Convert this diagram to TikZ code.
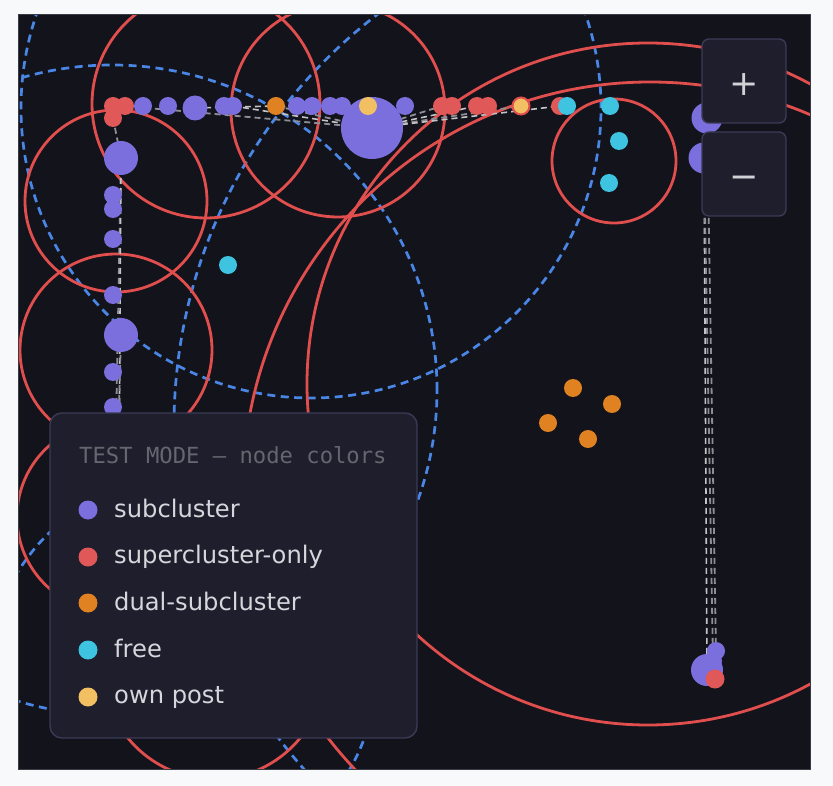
\documentclass[tikz,border=0pt]{standalone}
\usepackage{fontspec}
\newfontfamily\legfont{DejaVu Sans}
\newfontfamily\ttlfont{DejaVu Sans Mono}
\definecolor{pagebg}{HTML}{F8F9FB}
\definecolor{canvasbg}{HTML}{13131B}
\definecolor{canvasline}{HTML}{3A3A44}
\definecolor{ringred}{HTML}{E04E4E}
\definecolor{ringblue}{HTML}{4A86E6}
\definecolor{nodepurple}{HTML}{7B6FDD}
\definecolor{nodered}{HTML}{E05858}
\definecolor{nodeorange}{HTML}{E08222}
\definecolor{nodecyan}{HTML}{3EC4E0}
\definecolor{nodeyellow}{HTML}{F2C062}
\definecolor{edgegray}{HTML}{8E8E96}
\definecolor{edgelight}{HTML}{C4C4C8}
\definecolor{panelbg}{HTML}{1E1E2D}
\definecolor{panelline}{HTML}{3A3A56}
\definecolor{titlegray}{HTML}{66666F}
\definecolor{itemtext}{HTML}{D6D6DC}
\definecolor{glyphgray}{HTML}{D2D2D6}
\pgfdeclarelayer{ringlayer}
\pgfdeclarelayer{edgelayer}
\pgfdeclarelayer{frontlayer}
\pgfsetlayers{ringlayer,edgelayer,main,frontlayer}
\begin{document}
\begin{tikzpicture}[x=1pt,y=-1pt,
  redring/.style={draw=ringred, line width=2.8pt},
  bluering/.style={draw=ringblue, line width=2.7pt, dash pattern=on 8pt off 5.5pt},
  dot/.style={circle, inner sep=0pt, minimum size=18pt, fill=#1},
  midsize/.style={minimum size=25pt},
  bigsize/.style={minimum size=34pt},
  hugesize/.style={minimum size=62pt},
  edge/.style={draw=edgegray, line width=1.8pt, dash pattern=on 6pt off 4pt},
  edgel/.style={draw=edgelight, line width=1.6pt, dash pattern=on 6pt off 4pt},
  panel/.style={draw=panelline, fill=panelbg, line width=1.4pt, rounded corners=12pt},
  btn/.style={draw=panelline, fill=panelbg, line width=1.4pt, rounded corners=7pt,
     minimum width=84pt, minimum height=84pt, inner sep=0pt, text=glyphgray,
     font=\legfont\fontsize{35}{40}\selectfont},
  item/.style={anchor=base west, inner sep=0pt, text=itemtext, font=\legfont\fontsize{24.2}{28}\selectfont},
  legdot/.style={circle, inner sep=0pt, minimum size=19pt, fill=#1}
]
\useasboundingbox (0,0) rectangle (833,786);

% ---------- background and cluster rings ----------
\begin{pgfonlayer}{ringlayer}
\fill[pagebg] (0,0) rectangle (833,786);
\fill[canvasbg] (18,15) rectangle (810,769);
\begin{scope}
\clip (18,15) rectangle (810,769);
\draw[bluering] (112,390) circle[radius=325pt];
\draw[bluering] (311,108) circle[radius=290pt];
\draw[bluering] (692,426) circle[radius=518pt];
\draw[bluering] (183,672) circle[radius=193pt];
\draw[redring] (206,104) circle[radius=114pt];
\draw[redring] (338,110) circle[radius=107pt];
\draw[redring] (116,201) circle[radius=91pt];
\draw[redring] (116,350) circle[radius=96pt];
\draw[redring] (112,517) circle[radius=95pt];
\draw[redring] (214,668) circle[radius=111pt];
\draw[redring] (614,161) circle[radius=62pt];
\draw[redring] (648,384) circle[radius=341pt];
\draw[redring] (650,489) circle[radius=407pt];
\end{scope}
\draw[canvasline, line width=1pt] (18,15) rectangle (810,769);
\end{pgfonlayer}

% ---------- nodes: top row ----------
\node[dot=nodered] (r1) at (113,106) {};
\node[dot=nodered] (r2) at (125,106) {};
\node[dot=nodered] (r3) at (113,118) {};
\node[dot=nodepurple] (p1) at (143,106) {};
\node[dot=nodepurple] (p2) at (168,106) {};
\node[dot=nodepurple, midsize] (p3) at (195,108) {};
\node[dot=nodepurple] (p4) at (224,106) {};
\node[dot=nodepurple] (p5) at (233,106) {};
\node[dot=nodeorange] (o1) at (276,106) {};
\node[dot=nodepurple] (p6) at (297,106) {};
\node[dot=nodepurple] (p7) at (312,106) {};
\node[dot=nodepurple] (p8) at (330,106) {};
\node[dot=nodepurple] (p9) at (342,106) {};
\node[dot=nodepurple, hugesize] (P) at (372,128) {};
\node[dot=nodeyellow] (y1) at (368,106) {};
\node[dot=nodepurple] (p10) at (405,106) {};
\node[dot=nodered] (r4) at (442,106) {};
\node[dot=nodered] (r5) at (452,106) {};
\node[dot=nodered] (r6) at (477,106) {};
\node[dot=nodered] (r7) at (488,106) {};
\node[dot=nodeyellow, draw=ringred, line width=2pt, minimum size=17pt] (y2) at (521,106) {};
\node[dot=nodered] (r8) at (560,106) {};
\node[dot=nodecyan] (c1) at (567,106) {};
\node[dot=nodecyan] (c2) at (610,106) {};
\node[dot=nodecyan] (c3) at (619,141) {};
\node[dot=nodecyan] (c4) at (609,183) {};
\node[dot=nodecyan] (c5) at (228,265) {};

% ---------- nodes: left column ----------
\node[dot=nodepurple, bigsize] (pl1) at (121,158) {};
\node[dot=nodepurple] (pl2) at (113,195) {};
\node[dot=nodepurple] (pl3) at (113,209) {};
\node[dot=nodepurple] (pl4) at (113,239) {};
\node[dot=nodepurple] (pl5) at (113,295) {};
\node[dot=nodepurple, bigsize] (pl6) at (121,335) {};
\node[dot=nodepurple] (pl7) at (113,372) {};
\node[dot=nodepurple] (pl8) at (113,407) {};
\coordinate (hL1) at (115,480);
\coordinate (hL2) at (119,480);
\coordinate (hL3) at (117,480);

% ---------- nodes: right column ----------
\node[dot=nodepurple, minimum size=31pt] (pr1) at (707,118) {};
\node[dot=nodepurple, minimum size=31pt] (pr2) at (704,158) {};
\node[dot=nodepurple] (pb1) at (716,651) {};
\node[dot=nodepurple] (pb2) at (713,661) {};
\node[dot=nodepurple, minimum size=32pt] (pb3) at (707,670) {};
\node[dot=nodered, minimum size=19pt] (rb) at (715,679) {};

% ---------- dual-subcluster group ----------
\node[dot=nodeorange] (o2) at (573,388) {};
\node[dot=nodeorange] (o3) at (612,404) {};
\node[dot=nodeorange] (o4) at (548,423) {};
\node[dot=nodeorange] (o5) at (588,439) {};

% ---------- edges ----------
\begin{pgfonlayer}{edgelayer}
\draw[edge] (r3.center) -- (pl1.center);
\draw[edge] (r2.center) -- (P.center);
\draw[edgel] (p3.center) -- (o1.center);
\draw[edge] (o1.center) -- (P.center);
\draw[edgel] (p5.center) -- (P.center);
\draw[edge] (P.center) -- (r4.center);
\draw[edgel] (P.center) -- (r6.center);
\draw[edge] (P.center) -- (y2.center);
\draw[edgel] (P.center) -- (r8.center);
\draw[edge] (pl1.center) -- (hL1);
\draw[edgel] (pl1.center) -- (hL2);
\draw[edge] (pl6.center) -- (hL3);
\draw[edge] (pr1.center) -- (pb1.center);
\draw[edgel] (pr2.center) -- (pb3.center);
\draw[edge] (pr2.center) -- (pb2.center);
\end{pgfonlayer}

% ---------- legend and zoom buttons ----------
\begin{pgfonlayer}{frontlayer}
\draw[panel] (50,413) rectangle (417,738);
\node[anchor=base west, inner sep=0pt, text=titlegray, font=\ttlfont\fontsize{22.2}{26}\selectfont] (ttl) at (79,463) {TEST MODE — node colors};
\node[legdot=nodepurple] (ld1) at (88,510) {};
\node[item] (lt1) at (114,517) {subcluster};
\node[legdot=nodered] (ld2) at (88,557) {};
\node[item] (lt2) at (114,563) {supercluster-only};
\node[legdot=nodeorange] (ld3) at (88,603) {};
\node[item] (lt3) at (114,610) {dual-subcluster};
\node[legdot=nodecyan] (ld4) at (88,650) {};
\node[item] (lt4) at (114,657) {free};
\node[legdot=nodeyellow] (ld5) at (88,697) {};
\node[item] (lt5) at (114,703) {own post};
\node[btn] (zin) at (744,81) {\raisebox{-15pt}[0pt][0pt]{+}};
\node[btn] (zout) at (744,174) {\raisebox{-15pt}[0pt][0pt]{−}};
\end{pgfonlayer}
\end{tikzpicture}
\end{document}
